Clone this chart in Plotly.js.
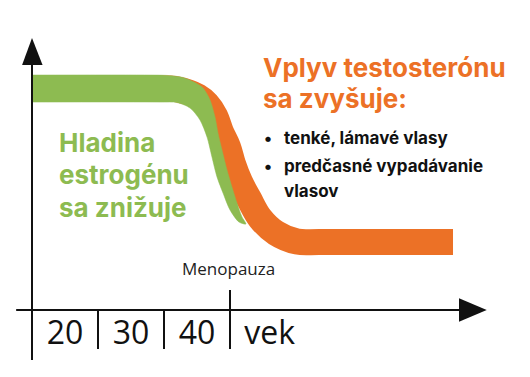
<!DOCTYPE html>
<html>
<head>
<meta charset="utf-8">
<script src="https://cdn.plot.ly/plotly-3.0.1.min.js"></script>
<style>html,body{margin:0;padding:0;background:#fff;}#chart{width:530px;height:377px;}</style>
</head>
<body>
<div id="chart"></div>
<script>
// ---- data (schematic: x = age-like units, y = hormone level units) ----
const greenAge   = [15, 32.9, 35.61, 37.88, 39.55, 40.91, 41.97, 42.73, 43.18, 43.79, 44.55, 45.30, 46.06, 46.82, 47.42, 46.36, 45.0, 43.94, 43.03, 42.27, 41.52, 40.45, 38.94, 36.97, 34.39, 15];
const greenLevel = [106.8, 106.8, 106.6, 105.7, 103.6, 100.9, 95.5, 87.7, 80.5, 72.7, 63.6, 55.9, 48.6, 42.3, 39.1, 40.0, 45.5, 53.2, 60.5, 69.5, 78.6, 86.4, 91.8, 94.3, 94.5, 94.5];
const orangeAge   = [32.88, 37.12, 40.15, 41.52, 42.73, 43.64, 44.70, 45.45, 46.52, 47.88, 49.55, 51.97, 55.15, 58.64, 78.79];
const orangeLevel = [100.7, 100.2, 97.0, 93.6, 88.2, 80.9, 74.1, 66.4, 58.2, 50.5, 41.8, 35.0, 31.1, 30.9, 30.9];
const tickAges   = [25, 35];
const menoAge    = 45;
const labelAges  = [20, 30, 40, 51];
const labelTexts = ['20', '30', '40', 'vek'];

const GREEN = '#8dbb51', ORANGE = '#ec7126', INK = '#111111';
const W = 530, H = 377;
const px = v => v / W, py = v => 1 - v / H;

const traces = [
  {x: orangeAge, y: orangeLevel, mode: 'lines', line: {color: ORANGE, width: 26, shape: 'spline', smoothing: 1}, hoverinfo: 'skip'},
  {x: greenAge, y: greenLevel, mode: 'lines', fill: 'toself', fillcolor: GREEN, line: {color: GREEN, width: 0.5, shape: 'spline', smoothing: 0.8}, hoverinfo: 'skip'},
  {x: labelAges, y: labelAges.map(() => -12), mode: 'text', text: labelTexts, textposition: 'middle center',
   textfont: {family: 'Open Sans, sans-serif', size: 32, color: INK}, hoverinfo: 'skip'}
];

const lineStyle = {color: INK, width: 2};
const shapes = [
  {type: 'line', x0: 15, x1: 15, y0: -22.7, y1: 111.4, line: lineStyle, layer: 'above'},
  {type: 'path', path: 'M 13.5 111.4 L 15 123.6 L 16.6 111.4 Z', fillcolor: INK, line: {width: 0}, layer: 'above'},
  {type: 'line', x0: 12.6, x1: 79.7, y0: 0, y1: 0, line: lineStyle, layer: 'above'},
  {type: 'path', path: 'M 79.7 5.3 L 83.9 0 L 79.7 -5.3 Z', fillcolor: INK, line: {width: 0}, layer: 'above'},
  {type: 'line', x0: menoAge, x1: menoAge, y0: 9.1, y1: -17.7, line: lineStyle, layer: 'above'}
].concat(tickAges.map(a => ({type: 'line', x0: a, x1: a, y0: 0, y1: -17.7, line: lineStyle, layer: 'above'})));

function ann(text, x, yc, size, color, family, weight, anchor) {
  return {text: text, x: px(x), y: py(yc), xref: 'paper', yref: 'paper', showarrow: false,
          xanchor: anchor || 'left', yanchor: 'middle', borderpad: 0,
          font: {family: family, size: size, color: color, weight: weight}};
}
const BOLD = 'Inter, Lato, sans-serif';
const annotations = [
  ann('Hladina', 58, 142.6, 26, GREEN, BOLD, 700),
  ann('estrogénu', 58, 174.6, 26, GREEN, BOLD, 700),
  ann('sa znižuje', 58, 207.6, 26, GREEN, BOLD, 700),
  ann('Vplyv testosterónu', 262, 67.6, 26, ORANGE, BOLD, 700),
  ann('sa zvyšuje:', 262, 98.6, 26, ORANGE, BOLD, 700),
  ann('•', 268, 137.9, 17, INK, BOLD, 700, 'center'),
  ann('tenké, lámavé vlasy', 283, 137.9, 17, INK, BOLD, 700),
  ann('•', 268, 165.9, 17, INK, BOLD, 700, 'center'),
  ann('predčasné vypadávanie', 283, 165.9, 17, INK, BOLD, 700),
  ann('vlasov', 283, 190.9, 17, INK, BOLD, 700),
  ann('Menopauza', 228, 268.4, 17, '#222222', 'Open Sans, sans-serif', 400, 'center')
];

const layout = {
  width: W, height: H, margin: {l: 0, r: 0, t: 0, b: 0},
  paper_bgcolor: '#ffffff', plot_bgcolor: '#ffffff', showlegend: false,
  xaxis: {range: [10.152, 90.455], visible: false, fixedrange: true},
  yaxis: {range: [-30.45, 140.91], visible: false, fixedrange: true},
  shapes: shapes, annotations: annotations
};
Plotly.newPlot('chart', traces, layout, {displayModeBar: false, staticPlot: true});
</script>
</body>
</html>
